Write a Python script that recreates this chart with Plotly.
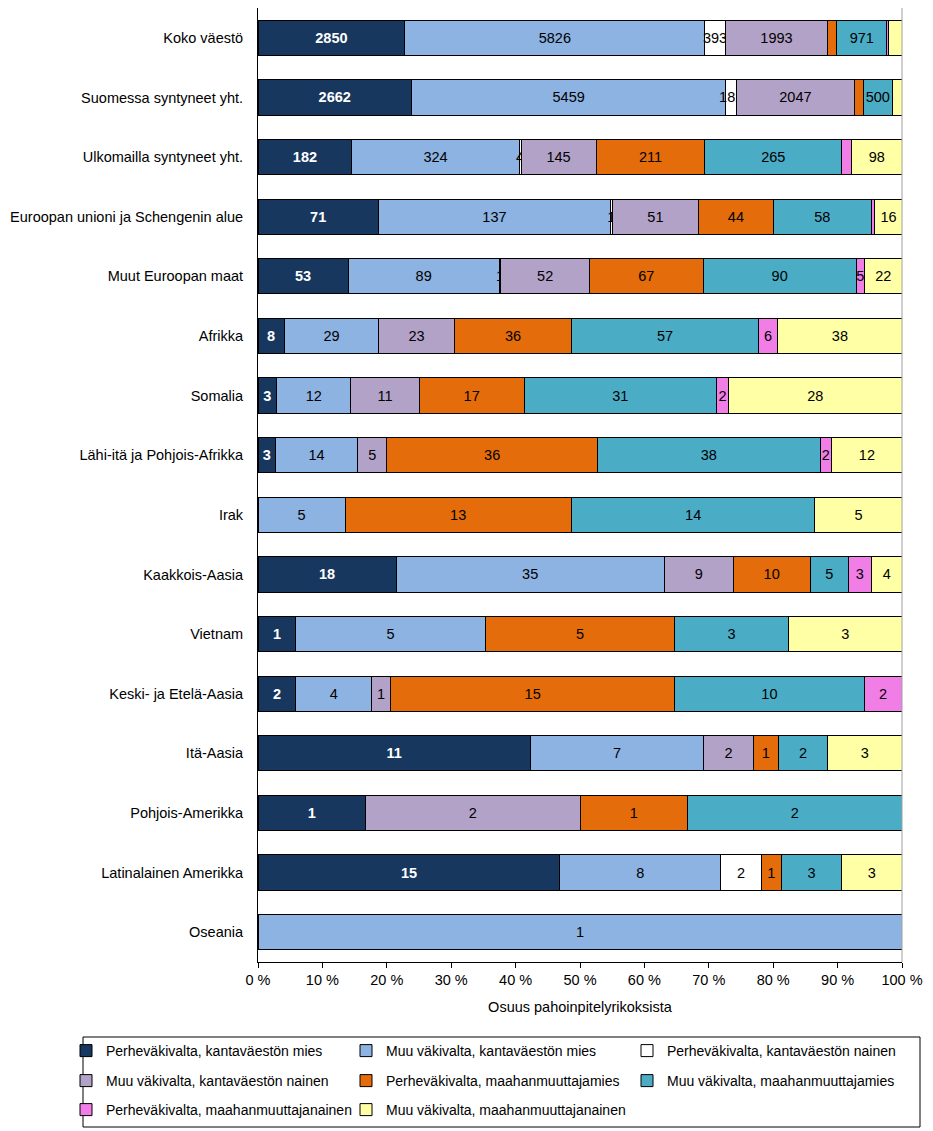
import plotly.graph_objects as go

categories = ["Koko väestö", "Suomessa syntyneet yht.", "Ulkomailla syntyneet yht.",
              "Euroopan unioni ja Schengenin alue", "Muut Euroopan maat", "Afrikka", "Somalia",
              "Lähi-itä ja Pohjois-Afrikka", "Irak", "Kaakkois-Aasia", "Vietnam",
              "Keski- ja Etelä-Aasia", "Itä-Aasia", "Pohjois-Amerikka", "Latinalainen Amerikka", "Oseania"]

series_names = ["Perheväkivalta, kantaväestön mies", "Muu väkivalta, kantaväestön mies",
                "Perheväkivalta, kantaväestön nainen", "Muu väkivalta, kantaväestön nainen",
                "Perheväkivalta, maahanmuuttajamies", "Muu väkivalta, maahanmuuttajamies",
                "Perheväkivalta, maahanmuuttajanainen", "Muu väkivalta, maahanmuuttajanainen"]

perhe_kanta_mies = [2850, 2662, 182, 71, 53, 8, 3, 3, 0, 18, 1, 2, 11, 1, 15, 0]
muu_kanta_mies = [5826, 5459, 324, 137, 89, 29, 12, 14, 5, 35, 5, 4, 7, 0, 8, 1]
perhe_kanta_nainen = [393, 182, 4, 1, 1, 0, 0, 0, 0, 0, 0, 0, 0, 0, 2, 0]
muu_kanta_nainen = [1993, 2047, 145, 51, 52, 23, 11, 5, 0, 9, 0, 1, 2, 2, 0, 0]
perhe_maahan_mies = [175, 157, 211, 44, 67, 36, 17, 36, 13, 10, 5, 15, 1, 1, 1, 0]
muu_maahan_mies = [971, 500, 265, 58, 90, 57, 31, 38, 14, 5, 3, 10, 2, 2, 3, 0]
perhe_maahan_nainen = [25, 10, 19, 2, 5, 6, 2, 2, 0, 3, 0, 2, 0, 0, 0, 0]
muu_maahan_nainen = [270, 160, 98, 16, 22, 38, 28, 12, 5, 4, 3, 0, 3, 0, 3, 0]

# segments whose data label is not shown in the original (category index, series index)
hidden_labels = {(0, 4), (0, 6), (0, 7), (1, 4), (1, 6), (1, 7), (2, 6), (3, 6)}

tick_vals = [0, 10, 20, 30, 40, 50, 60, 70, 80, 90, 100]
tick_text = ["0 %", "10 %", "20 %", "30 %", "40 %", "50 %", "60 %", "70 %", "80 %", "90 %", "100 %"]

colors = ["#17375E", "#8DB3E2", "#FFFFFF", "#B3A2C7", "#E46C0A", "#4BACC6", "#F07EE6", "#FFFFA6"]

all_series = [perhe_kanta_mies, muu_kanta_mies, perhe_kanta_nainen, muu_kanta_nainen,
              perhe_maahan_mies, muu_maahan_mies, perhe_maahan_nainen, muu_maahan_nainen]

FONT = "Liberation Sans, Arial, sans-serif"
FS = 14.5

# The page body has an 8px margin, so the figure is placed at (8, 8) on screen.
OFF = 8
W, H = 933 - OFF, 1131 - OFF
ML, MR, MT, MB = 258 - OFF, 31, 8 - OFF, 169
PW, PH = W - ML - MR, H - MT - MB


def px_x(sx):
    return (sx - OFF - ML) / PW


def px_y(sy):
    return (H - MB - (sy - OFF)) / PH


# legend entry positions on screen (item left edge, row centre)
col_x = [66, 346, 627]
row_y = [1051, 1081, 1110]

fig = go.Figure()
legend_layouts = {}
for si, (name, vals, col) in enumerate(zip(series_names, all_series, colors)):
    xs = [v if v != 0 else None for v in vals]
    texts = []
    for ci, v in enumerate(vals):
        if v == 0 or (ci, si) in hidden_labels:
            texts.append("")
        else:
            texts.append(f"<b>{v}</b>" if si == 0 else str(v))
    lid = "legend" if si == 0 else f"legend{si + 1}"
    fig.add_trace(go.Bar(
        y=categories, x=xs, name=name, orientation="h",
        marker=dict(color=col, line=dict(color="black", width=1)),
        text=texts, textposition="inside", insidetextanchor="middle", textangle=0,
        textfont=dict(family=FONT, size=FS, color="white" if si == 0 else "black"),
        hoverinfo="name+x", legend=lid, showlegend=True,
    ))
    legend_layouts[lid] = dict(
        orientation="h", xanchor="left", yanchor="middle",
        x=px_x(col_x[si % 3]), y=px_y(row_y[si // 3]),
        borderwidth=0, bgcolor="rgba(0,0,0,0)", font=dict(size=14), itemwidth=30,
    )

fig.update_layout(
    showlegend=True,
    barmode="stack", barnorm="percent", bargap=0.41,
    width=W, height=H,
    margin=dict(l=ML, r=MR, t=MT, b=MB, autoexpand=False),
    paper_bgcolor="white", plot_bgcolor="white",
    font=dict(family=FONT, size=FS, color="black"),
    uniformtext=dict(minsize=FS, mode="show"),
    xaxis=dict(range=[0, 100], tickvals=tick_vals, ticktext=tick_text, automargin=False,
               showgrid=False, zeroline=False, showline=True, linecolor="black", linewidth=1,
               ticks="outside", ticklen=5, tickcolor="black",
               tickfont=dict(size=FS),
               title=dict(text="Osuus pahoinpitelyrikoksista", font=dict(size=FS), standoff=14)),
    yaxis=dict(autorange="reversed", showgrid=False, showline=True, linecolor="black", linewidth=1,
               ticks="", tickfont=dict(size=14.5), ticklabelstandoff=11, automargin=False),
    shapes=[
        dict(type="line", xref="paper", yref="paper", x0=1, x1=1, y0=0, y1=1,
             line=dict(color="#A0A0A0", width=1)),
        dict(type="rect", xref="paper", yref="paper", x0=px_x(83), x1=px_x(920),
             y0=px_y(1127), y1=px_y(1037), line=dict(color="black", width=1),
             fillcolor="rgba(0,0,0,0)", layer="below"),
    ],
    **legend_layouts,
)

fig.write_html("out.html")
